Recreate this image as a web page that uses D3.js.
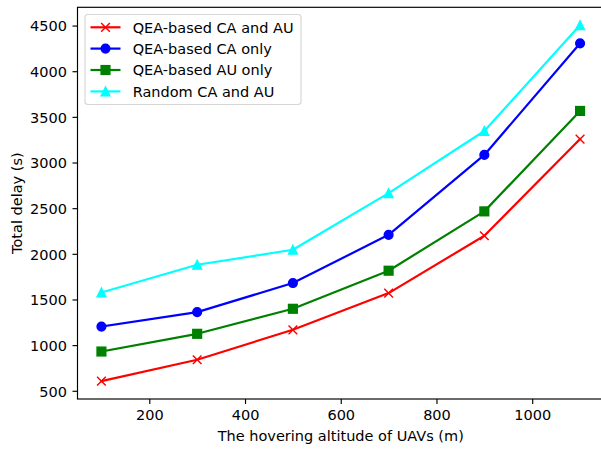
<!DOCTYPE html>
<html>
<head>
<meta charset="utf-8">
<script src="https://cdn.jsdelivr.net/npm/d3@7/dist/d3.min.js"></script>
<style>
  html, body { margin: 0; padding: 0; background: #fff; }
  svg text { font-family: "DejaVu Sans", sans-serif; fill: #000; }
</style>
</head>
<body>
<svg id="chart" width="601" height="449"></svg>
<script>
// Hovering altitude of the UAVs (m)
const altitudes = [100, 300, 500, 700, 900, 1100];

// Total delay (s) for each scheme
const qeaCaAu   = [605, 840, 1168, 1570, 2198, 3257];
const qeaCaOnly = [1203, 1362, 1680, 2208, 3083, 4305];
const qeaAuOnly = [930, 1124, 1398, 1815, 2465, 3565];
const randomCaAu = [1577, 1880, 2045, 2665, 3345, 4505];

const seriesNames = [
  "QEA-based CA and AU",
  "QEA-based CA only",
  "QEA-based AU only",
  "Random CA and AU"
];

const xTicks = [200, 400, 600, 800, 1000];
const yTicks = [500, 1000, 1500, 2000, 2500, 3000, 3500, 4000, 4500];

const xLabel = "The hovering altitude of UAVs (m)";
const yLabel = "Total delay (s)";

const series = [
  { name: seriesNames[0], values: qeaCaAu,    color: "#ff0000", marker: "x" },
  { name: seriesNames[1], values: qeaCaOnly,  color: "#0000ff", marker: "o" },
  { name: seriesNames[2], values: qeaAuOnly,  color: "#008000", marker: "s" },
  { name: seriesNames[3], values: randomCaAu, color: "#00ffff", marker: "^" }
];

const svg = d3.select("#chart");
const plot = { left: 77.5, right: 604, top: 7.3, bottom: 399 };
const fontPx = 14.5;
const lw = 2.2;
const ms = 8.7;
const mew = 1.45;

// 5% padding on both axes around the data range
const xMin = d3.min(altitudes), xMax = d3.max(altitudes);
const xPad = (xMax - xMin) * 0.05;
const allY = series.flatMap(s => s.values);
const yMin = d3.min(allY), yMax = d3.max(allY);
const yPad = (yMax - yMin) * 0.05;

const x = d3.scaleLinear().domain([xMin - xPad, xMax + xPad]).range([plot.left, plot.right]);
const y = d3.scaleLinear().domain([yMin - yPad, yMax + yPad]).range([plot.bottom, plot.top]);

// Axes
const xAxis = d3.axisBottom(x).tickValues(xTicks).tickSize(5).tickPadding(5).tickFormat(d3.format("d"));
const yAxis = d3.axisLeft(y).tickValues(yTicks).tickSize(5).tickPadding(5).tickFormat(d3.format("d"));

const gx = svg.append("g").attr("transform", `translate(0,${plot.bottom})`).call(xAxis);
const gy = svg.append("g").attr("transform", `translate(${plot.left},0)`).call(yAxis);

[gx, gy].forEach(g => {
  g.select(".domain").remove();
  g.selectAll(".tick line").attr("stroke", "#000").attr("stroke-width", 1.16);
  g.selectAll(".tick text")
    .attr("font-size", fontPx)
    .attr("font-family", "DejaVu Sans, sans-serif")
    .attr("fill", "#000");
});
gx.selectAll(".tick text").attr("dy", null).attr("y", 21);
gy.selectAll(".tick text").attr("dy", null).attr("y", 5.3).attr("x", -10.5);

// Spines (the right one falls just outside the canvas)
svg.append("rect")
  .attr("x", plot.left).attr("y", plot.top)
  .attr("width", plot.right - plot.left).attr("height", plot.bottom - plot.top)
  .attr("fill", "none").attr("stroke", "#000").attr("stroke-width", 1.16);

// Axis labels
svg.append("text")
  .attr("x", (plot.left + plot.right) / 2).attr("y", 440.5)
  .attr("text-anchor", "middle").attr("font-size", fontPx)
  .text(xLabel);

svg.append("text")
  .attr("transform", `translate(22,${(plot.top + plot.bottom) / 2}) rotate(-90)`)
  .attr("text-anchor", "middle").attr("font-size", fontPx)
  .text(yLabel);

// Marker drawing
function drawMarker(g, type, color, cx, cy) {
  const h = ms / 2;
  if (type === "o") {
    g.append("circle").attr("cx", cx).attr("cy", cy).attr("r", h)
      .attr("fill", color).attr("stroke", color).attr("stroke-width", mew);
  } else if (type === "s") {
    g.append("rect").attr("x", cx - h).attr("y", cy - h).attr("width", ms).attr("height", ms)
      .attr("fill", color).attr("stroke", color).attr("stroke-width", mew);
  } else if (type === "^") {
    g.append("path")
      .attr("d", `M${cx},${cy - h}L${cx - h},${cy + h}L${cx + h},${cy + h}Z`)
      .attr("fill", color).attr("stroke", color).attr("stroke-width", mew).attr("stroke-linejoin", "miter");
  } else if (type === "x") {
    g.append("path")
      .attr("d", `M${cx - h},${cy - h}L${cx + h},${cy + h}M${cx - h},${cy + h}L${cx + h},${cy - h}`)
      .attr("fill", "none").attr("stroke", color).attr("stroke-width", mew);
  }
}

const line = d3.line().x(d => x(d[0])).y(d => y(d[1]));

const plotG = svg.append("g");
series.forEach(s => {
  const pts = altitudes.map((a, i) => [a, s.values[i]]);
  plotG.append("path")
    .attr("d", line(pts))
    .attr("fill", "none").attr("stroke", s.color).attr("stroke-width", lw)
    .attr("stroke-linejoin", "round").attr("stroke-linecap", "square");
  const mg = plotG.append("g");
  pts.forEach(p => drawMarker(mg, s.marker, s.color, x(p[0]), y(p[1])));
});

// Legend
const legend = svg.append("g");
legend.append("rect")
  .attr("x", 85).attr("y", 14.5).attr("width", 216).attr("height", 90)
  .attr("rx", 3).attr("ry", 3)
  .attr("fill", "#fff").attr("fill-opacity", 0.8)
  .attr("stroke", "#d6d6d6").attr("stroke-width", 1.16);

const rowY = [27.3, 48.6, 70.0, 91.4];
series.forEach((s, i) => {
  const ly = rowY[i];
  legend.append("line")
    .attr("x1", 90.5).attr("x2", 120.5).attr("y1", ly).attr("y2", ly)
    .attr("stroke", s.color).attr("stroke-width", lw);
  drawMarker(legend, s.marker, s.color, 105.5, ly);
  legend.append("text")
    .attr("x", 132.7).attr("y", ly + 5.2)
    .attr("font-size", fontPx)
    .text(s.name);
});
</script>
</body>
</html>
